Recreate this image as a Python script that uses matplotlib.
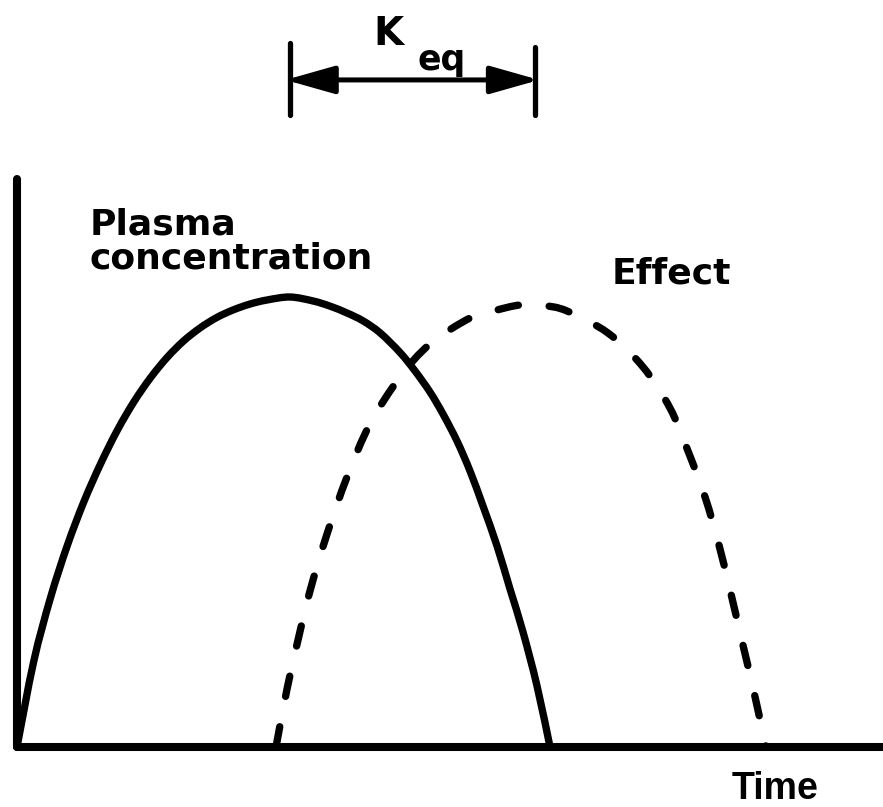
import matplotlib
matplotlib.use("Agg")
import numpy as np
import matplotlib.pyplot as plt
from matplotlib.patches import FancyArrowPatch, ArrowStyle, PathPatch
from matplotlib.path import Path

# ---- data (arbitrary units) ----
plasma_time = [0.000, 0.193, 0.386, 0.579, 0.771, 0.964, 1.157, 1.350, 1.543, 1.736,
               1.923, 2.113, 2.304, 2.494, 2.691, 2.887, 3.152, 3.418, 3.614, 3.811,
               3.995, 4.192, 4.423, 4.596, 4.769, 4.919, 5.081, 5.231, 5.381, 5.543,
               5.693, 5.843, 6.005, 6.155]
plasma_conc = [0.000, 1.145, 1.995, 2.691, 3.280, 3.788, 4.237, 4.621, 4.945, 5.218,
               5.435, 5.609, 5.748, 5.850, 5.930, 5.984, 6.024, 5.971, 5.902, 5.810,
               5.705, 5.545, 5.281, 5.034, 4.752, 4.458, 4.096, 3.695, 3.226, 2.691,
               2.115, 1.540, 0.817, 0.000]

effect_time = [2.991, 3.118, 3.245, 3.383, 3.580, 3.811, 4.076, 4.423, 4.769, 5.231,
               5.520, 5.808, 6.074, 6.351, 6.824, 7.229, 7.540, 7.748, 7.945, 8.106,
               8.245, 8.383, 8.510, 8.649]
effect_value = [0.000, 0.776, 1.432, 2.088, 2.851, 3.614, 4.324, 4.953, 5.395, 5.743,
                5.843, 5.917, 5.910, 5.837, 5.542, 5.087, 4.538, 3.963, 3.347, 2.704,
                2.048, 1.365, 0.736, 0.000]

keq_start = 3.15   # time of plasma peak
keq_end = 5.98     # time of effect peak

labels = {"plasma": "Plasma\nconcentration", "effect": "Effect",
          "time": "Time", "k": "K", "eq": "eq"}


def smooth_path(xs, ys):
    """Smooth (Catmull-Rom as cubic Bezier) path through the given points."""
    pts = np.column_stack([xs, ys]).astype(float)
    verts = [pts[0]]
    codes = [Path.MOVETO]
    n = len(pts)
    for i in range(n - 1):
        p0 = pts[i - 1] if i > 0 else pts[i]
        p1 = pts[i]
        p2 = pts[i + 1]
        p3 = pts[i + 2] if i + 2 < n else pts[i + 1]
        verts += [p1 + (p2 - p0) / 6.0, p2 - (p3 - p1) / 6.0, p2]
        codes += [Path.CURVE4] * 3
    return Path(verts, codes)


# ---- figure ----
W, H = 883, 807
fig = plt.figure(figsize=(W / 100, H / 100), dpi=100)
ax = fig.add_axes([17 / W, (H - 747) / H, (W - 17) / W, 747 / H])
ax.set_xlim(0, 10)
ax.set_ylim(0, 10)
ax.set_xticks([])
ax.set_yticks([])
for s in ("top", "right"):
    ax.spines[s].set_visible(False)
for s in ("left", "bottom"):
    ax.spines[s].set_linewidth(5.8)
    ax.spines[s].set_capstyle("round")
ax.spines["left"].set_bounds(0, 7.6)
ax.patch.set_alpha(0)

lw = 5.3
solid = PathPatch(smooth_path(plasma_time, plasma_conc), facecolor="none",
                  edgecolor="black", lw=lw, capstyle="round", joinstyle="round",
                  clip_on=False)
ax.add_patch(solid)
dashed = PathPatch(smooth_path(effect_time, effect_value), facecolor="none",
                   edgecolor="black", lw=lw, linestyle=(0, (2.8, 4.2)),
                   capstyle="round", joinstyle="round", clip_on=False)
ax.add_patch(dashed)

# Keq bracket
ybar_lo, yarr = 8.46, 8.93
for x, top in ((keq_start, 9.43), (keq_end, 9.37)):
    ax.plot([x, x], [ybar_lo, top], color="black", lw=3.8,
            solid_capstyle="round", clip_on=False)
arr = FancyArrowPatch((keq_start - 0.05, yarr), (keq_end + 0.05, yarr),
                      arrowstyle=ArrowStyle("<|-|>", head_length=30, head_width=8.5),
                      mutation_scale=1, lw=3.6, color="black",
                      shrinkA=0, shrinkB=0, clip_on=False)
ax.add_patch(arr)

fam = "DejaVu Sans"
ax.text(0.84, 6.41, labels["plasma"], fontsize=26, fontweight="bold", family=fam,
        ha="left", va="baseline", linespacing=1.0)
ax.text(6.87, 6.21, labels["effect"], fontsize=26, fontweight="bold", family=fam,
        ha="left", va="baseline")
ax.text(8.25, -0.70, labels["time"], fontsize=27, fontweight="bold",
        family="Liberation Sans", ha="left", va="baseline", clip_on=False)
ax.text(4.11, 9.40, labels["k"], fontsize=28, fontweight="bold", family=fam,
        ha="left", va="baseline", clip_on=False)
ax.text(4.63, 9.06, labels["eq"], fontsize=25, fontweight="bold", family=fam,
        ha="left", va="baseline", clip_on=False)

fig.savefig("out.png", dpi=100, facecolor="white")
